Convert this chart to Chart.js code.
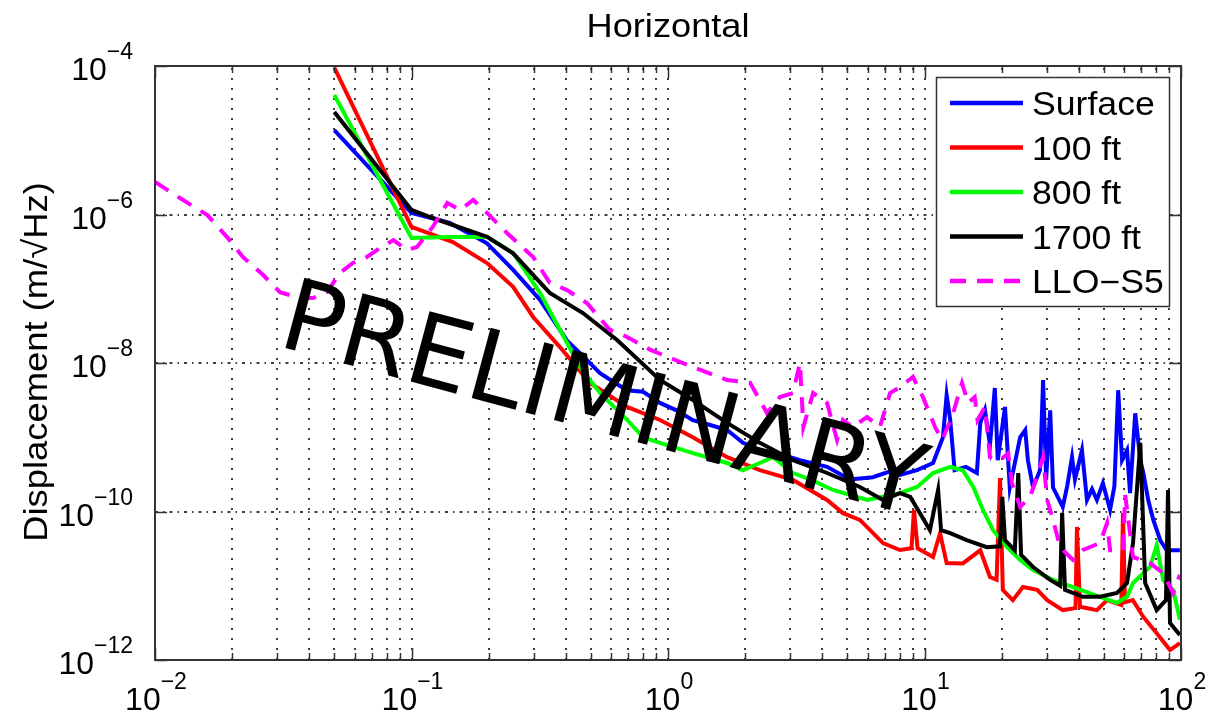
<!DOCTYPE html>
<html>
<head>
<meta charset="utf-8">
<script src="https://cdn.jsdelivr.net/npm/chart.js@4/dist/chart.umd.min.js"></script>
<style>
  html, body { margin: 0; background: #fff; }
  canvas { display: block; }
</style>
</head>
<body>
<canvas id="chart" width="1209" height="715"></canvas>
<script>
// [frequency (Hz), displacement (m/rtHz)]
const surface = [[0.05,1.37e-5],[0.1,1.05e-6],[0.141,7.7e-7],[0.197,4.1e-7],[0.249,1.8e-7],[0.317,7.1e-8],[0.404,2.0e-8],[0.454,1.36e-8],[0.543,7.3e-9],[0.69,4.3e-9],[0.8,4.1e-9],[0.93,2.9e-9],[1.08,2.3e-9],[1.25,1.7e-9],[1.46,1.46e-9],[1.7,1.25e-9],[1.96,8.4e-10],[2.28,6.7e-10],[2.66,6.1e-10],[3.27,4.9e-10],[4.17,4.0e-10],[5.12,2.7e-10],[6.29,2.9e-10],[7.2,3.4e-10],[8.02,3.1e-10],[9.35,3.6e-10],[10.8,4.5e-10],[11.8,1.0e-9],[12.2,3.7e-9],[12.6,1.7e-9],[13.1,3.6e-10],[14.5,4.0e-10],[16.0,3.3e-10],[16.5,1.56e-9],[17.2,2.33e-9],[18.0,7.9e-10],[18.8,4.6e-9],[19.3,4.9e-10],[20.6,2.56e-9],[21.5,2.1e-10],[23.6,1.0e-9],[24.7,1.25e-9],[25.3,4.9e-10],[26.5,2.1e-10],[28.2,3.6e-10],[29.0,5.9e-9],[29.8,2.7e-10],[30.9,2.3e-9],[31.7,2.1e-10],[33.0,1.6e-10],[34.6,1.15e-10],[36.0,2.2e-10],[37.6,5.4e-10],[38.6,2.7e-10],[41.1,6.7e-10],[43.0,1.43e-10],[45.0,2.0e-10],[47.0,1.43e-10],[49.6,2.4e-10],[52.9,1.05e-10],[55.0,2.2e-10],[56.9,4.3e-9],[58.9,4.9e-10],[61.6,6.7e-10],[63.3,1.77e-10],[66.3,2.1e-9],[69.4,4.9e-10],[71.3,3.3e-10],[74.5,1.43e-10],[78.0,7.7e-11],[83.0,4.1e-11],[88.0,3.0e-11],[99.0,3.0e-11]];
const ft100 = [[0.05,9.5e-5],[0.1,6.8e-7],[0.145,4.26e-7],[0.197,2.22e-7],[0.249,1.06e-7],[0.298,4.17e-8],[0.379,1.64e-8],[0.496,5.4e-9],[0.693,2.56e-9],[0.931,1.71e-9],[1.25,1.0e-9],[1.7,5.4e-10],[2.28,3.6e-10],[3.07,2.66e-10],[3.58,1.95e-10],[4.17,1.43e-10],[4.81,9.5e-11],[5.6,7.7e-11],[6.89,3.76e-11],[8.02,3.03e-11],[8.9,3.2e-11],[9.1,1.05e-10],[9.4,3.2e-11],[10.8,2.44e-11],[11.5,5.1e-11],[12.2,2.02e-11],[14.1,2.0e-11],[16.5,3.0e-11],[18.0,1.31e-11],[19.1,1.2e-11],[19.7,2.83e-10],[20.2,8.8e-12],[22.1,6.4e-12],[24.2,9.6e-12],[27.5,8.8e-12],[30.1,6.4e-12],[34.6,4.7e-12],[38.8,5.0e-12],[39.3,6.2e-11],[40.4,5.2e-12],[47.0,4.7e-12],[51.5,6.4e-12],[58.5,5.5e-12],[59.4,9.5e-11],[60.5,6.0e-12],[64.9,6.4e-12],[71.3,3.8e-12],[80.4,2.3e-12],[90.6,1.36e-12],[99.0,1.69e-12]];
const ft800 = [[0.05,4.07e-5],[0.1,4.83e-7],[0.141,4.97e-7],[0.197,5.0e-7],[0.249,3.03e-7],[0.317,8.8e-8],[0.404,1.86e-8],[0.454,8.8e-9],[0.543,3.94e-9],[0.693,1.71e-9],[0.8,1.0e-9],[0.93,8.4e-10],[1.25,6.1e-10],[1.7,4.5e-10],[1.96,3.6e-10],[2.28,4.5e-10],[2.57,5.4e-10],[3.07,3.3e-10],[3.58,2.7e-10],[4.4,1.95e-10],[5.97,1.43e-10],[8.02,1.77e-10],[9.35,2.14e-10],[10.8,3.3e-10],[12.6,3.98e-10],[14.1,3.6e-10],[15.5,2.14e-10],[16.9,1.05e-10],[18.5,5.6e-11],[21.0,3.3e-11],[23.6,2.22e-11],[26.5,1.63e-11],[31.7,1.2e-11],[37.9,9.6e-12],[48.3,7.1e-12],[56.3,5.9e-12],[61.6,7.1e-12],[65.0,1.09e-11],[71.3,1.48e-11],[75.7,1.79e-11],[80.4,3.5e-11],[85.2,1.2e-11],[93.1,8.8e-12],[99.0,3.5e-12]];
const ft1700 = [[0.05,2.4e-5],[0.1,1.15e-6],[0.121,8.97e-7],[0.197,5.0e-7],[0.249,3.0e-7],[0.346,8.8e-8],[0.466,4.71e-8],[0.633,2.04e-8],[0.93,5.9e-9],[1.25,3.17e-9],[1.7,1.56e-9],[2.28,8.4e-10],[3.07,4.9e-10],[4.17,3.3e-10],[5.6,2.14e-10],[6.89,1.43e-10],[8.02,1.77e-10],[8.8,1.57e-10],[9.6,9.5e-11],[10.5,5.6e-11],[11.3,1.95e-10],[11.6,5.6e-11],[12.6,5.1e-11],[14.6,4.13e-11],[17.5,3.3e-11],[19.7,3.4e-11],[20.1,1.57e-10],[20.6,4.1e-11],[22.5,3.0e-11],[23.2,3.3e-10],[23.8,2.6e-11],[26.5,1.79e-11],[30.9,1.2e-11],[33.8,1.0e-11],[34.4,9.6e-11],[35.3,8.8e-12],[41.5,7.1e-12],[48.3,7.1e-12],[56.3,8.0e-12],[61.6,1.09e-11],[65.0,3.76e-11],[69.4,8.4e-10],[72.5,1.09e-11],[80.4,4.7e-12],[87.4,6.4e-12],[89.0,1.95e-10],[90.6,3.15e-12],[99.0,2.17e-12]];
const lloS5 = [[0.01,2.74e-6],[0.0125,1.67e-6],[0.016,9.8e-7],[0.0191,4.97e-7],[0.022,2.68e-7],[0.0264,1.53e-7],[0.0307,9.0e-8],[0.0358,7.7e-8],[0.0413,7.5e-8],[0.0468,9.0e-8],[0.0526,1.63e-7],[0.0591,2.22e-7],[0.067,2.68e-7],[0.0754,3.54e-7],[0.085,4.53e-7],[0.096,3.32e-7],[0.105,3.65e-7],[0.121,6.8e-7],[0.138,1.43e-6],[0.155,1.15e-6],[0.174,1.57e-6],[0.197,1.05e-6],[0.236,5.6e-7],[0.298,2.68e-7],[0.346,1.2e-7],[0.404,9.6e-8],[0.483,6.42e-8],[0.594,2.78e-8],[0.693,2.24e-8],[0.855,1.5e-8],[1.14,1.0e-8],[1.25,8.8e-9],[1.7,5.9e-9],[2.09,5.4e-9],[2.28,3.17e-9],[2.43,2.12e-9],[2.73,3.48e-9],[3.07,3.94e-9],[3.27,1.0e-8],[3.37,1.37e-9],[3.68,3.94e-9],[4.17,2.89e-9],[4.56,9.2e-10],[4.81,1.71e-9],[5.26,1.37e-9],[5.97,1.87e-9],[6.7,1.37e-9],[7.34,3.94e-9],[8.02,4.75e-9],[9.02,6.5e-9],[9.86,3.48e-9],[11.0,1.37e-9],[11.7,9.2e-10],[12.8,1.87e-9],[14.0,5.4e-9],[14.8,2.89e-9],[15.7,3.48e-9],[16.1,1.71e-9],[17.2,2.56e-9],[18.0,5.4e-10],[19.7,4.9e-10],[21.2,6.1e-10],[21.9,2.42e-10],[23.6,1.15e-10],[25.8,1.57e-10],[29.0,5.4e-10],[30.1,1.43e-10],[31.7,7.7e-11],[33.8,3.3e-11],[37.9,2.22e-11],[41.5,3.03e-11],[48.3,3.76e-11],[51.5,7.0e-11],[52.9,3.0e-11],[59.4,3.0e-11],[60.6,1.67e-10],[65.0,2.44e-11],[75.7,2.02e-11],[85.2,1.48e-11],[93.1,8.0e-12],[99.0,1.4e-11]];

const seriesNames = ["Surface", "100 ft", "800 ft", "1700 ft", "LLO\u2212S5"];
const xTickExps = [-2, -1, 0, 1, 2];
const yTickExps = [-12, -10, -8, -6, -4];

const FONT = '"Liberation Sans", Arial, sans-serif';
const colors = ["#0000ff", "#ff0000", "#00ff00", "#000000", "#ff00ff"];
const dashes = [[], [], [], [], [16, 11]];
const allSeries = [surface, ft100, ft800, ft1700, lloS5];

// MATLAB text comes out a little wider than Liberation Sans
function wideText(ctx, text, x, y, sx) {
  ctx.save();
  ctx.translate(x, y);
  ctx.scale(sx, 1);
  ctx.fillText(text, 0, 0);
  ctx.restore();
}

function drawPow(ctx, exp, x, baseY, align) {
  const main = "10", sup = "\u2212" + Math.abs(exp);
  const mainFont = "32px " + FONT, supFont = "23px " + FONT;
  ctx.font = mainFont;
  const w1 = ctx.measureText(main).width;
  ctx.font = supFont;
  const w2 = ctx.measureText(exp < 0 ? sup : String(exp)).width;
  let start = align === "right" ? x - (w1 + w2) : x - (w1 + w2) / 2;
  ctx.textAlign = "left";
  ctx.textBaseline = "alphabetic";
  ctx.font = mainFont;
  ctx.fillText(main, start, baseY);
  ctx.font = supFont;
  ctx.fillText(exp < 0 ? sup : String(exp), start + w1, baseY - 21);
}

const matlabAxes = {
  id: "matlabAxes",
  beforeDatasetsDraw(chart) {
    const { ctx, chartArea: a, scales: { x, y } } = chart;
    ctx.save();
    ctx.strokeStyle = "#000";
    ctx.lineWidth = 1.5;
    ctx.setLineDash([2, 8]);
    for (let e = -2; e < 2; e++) {
      for (let m = 1; m < 10; m++) {
        if (e === -2 && m === 1) continue;
        const px = Math.round(x.getPixelForValue(m * Math.pow(10, e)));
        ctx.beginPath();
        ctx.moveTo(px, a.bottom);
        ctx.lineTo(px, a.top);
        ctx.stroke();
      }
    }
    ctx.setLineDash([3, 5, 1.5, 5]);
    yTickExps.slice(1, -1).forEach(e => {
      const py = Math.round(y.getPixelForValue(Math.pow(10, e)));
      ctx.beginPath();
      ctx.moveTo(a.left, py);
      ctx.lineTo(a.right, py);
      ctx.stroke();
    });
    ctx.restore();
  },
  afterDatasetsDraw(chart) {
    const { ctx, chartArea: a, scales: { x, y } } = chart;
    ctx.save();
    ctx.setLineDash([]);
    ctx.strokeStyle = "#333";
    ctx.lineWidth = 1.5;
    // ticks
    for (let e = -2; e <= 2; e++) {
      for (let m = 1; m < 10; m++) {
        if (e === 2 && m > 1) break;
        const px = Math.round(x.getPixelForValue(m * Math.pow(10, e))) + 0.5;
        const len = m === 1 ? 12 : 7;
        ctx.beginPath();
        ctx.moveTo(px, a.bottom); ctx.lineTo(px, a.bottom - len);
        ctx.moveTo(px, a.top); ctx.lineTo(px, a.top + len);
        ctx.stroke();
      }
    }
    yTickExps.forEach(e => {
      const py = Math.round(y.getPixelForValue(Math.pow(10, e))) + 0.5;
      ctx.beginPath();
      ctx.moveTo(a.left, py); ctx.lineTo(a.left + 12, py);
      ctx.moveTo(a.right, py); ctx.lineTo(a.right - 12, py);
      ctx.stroke();
    });
    // box
    ctx.lineWidth = 2;
    ctx.strokeRect(a.left, a.top, a.right - a.left, a.bottom - a.top);

    // tick labels
    ctx.fillStyle = "#000";
    xTickExps.forEach(e => drawPow(ctx, e, x.getPixelForValue(Math.pow(10, e)) + 1, 710, "center"));
    yTickExps.forEach(e => drawPow(ctx, e, a.left - 22, y.getPixelForValue(Math.pow(10, e)) + 14, "right"));

    // title and y label
    ctx.font = "34px " + FONT;
    ctx.textAlign = "center";
    ctx.textBaseline = "alphabetic";
    wideText(ctx, "Horizontal", (a.left + a.right) / 2, 37, 1.065);
    ctx.save();
    ctx.translate(47, (a.top + a.bottom) / 2 - 1);
    ctx.rotate(-Math.PI / 2);
    wideText(ctx, "Displacement (m/\u221AHz)", 0, 0, 1.07);
    ctx.restore();

    // legend
    ctx.fillStyle = "#fff";
    ctx.fillRect(936, 77, 233, 229);
    ctx.strokeStyle = "#333";
    ctx.lineWidth = 1.5;
    ctx.strokeRect(936.5, 77.5, 233, 229);
    chart.data.datasets.forEach((ds, i) => {
      const ly = 103 + i * 44.5;
      ctx.strokeStyle = ds.borderColor;
      ctx.lineWidth = 4.5;
      ctx.setLineDash(ds.borderDash || []);
      ctx.beginPath();
      ctx.moveTo(950, ly); ctx.lineTo(1023, ly);
      ctx.stroke();
      ctx.setLineDash([]);
      ctx.fillStyle = "#000";
      ctx.font = "33px " + FONT;
      ctx.textAlign = "left";
      wideText(ctx, ds.label, 1032, ly + 12, 1.08);
    });

    // watermark
    ctx.save();
    ctx.translate(602, 406);
    ctx.rotate(15 * Math.PI / 180);
    ctx.font = '100px "DejaVu Sans", sans-serif';
    ctx.textAlign = "center";
    ctx.textBaseline = "middle";
    ctx.fillStyle = "#000";
    ctx.fillText("PRELIMINARY", 0, 0);
    ctx.restore();
    ctx.restore();
  }
};

new Chart(document.getElementById("chart"), {
  type: "line",
  data: {
    datasets: allSeries.map((s, i) => ({
      label: seriesNames[i],
      data: s.map(([f, v]) => ({ x: f, y: v })),
      borderColor: colors[i],
      borderDash: dashes[i],
      borderWidth: 4,
      pointRadius: 0,
      tension: 0,
      fill: false,
      order: 5 - i,
    })),
  },
  options: {
    responsive: false,
    animation: false,
    devicePixelRatio: 1,
    layout: { padding: { left: 155, right: 28, top: 66, bottom: 55 } },
    plugins: { legend: { display: false }, tooltip: { enabled: false }, title: { display: false } },
    scales: {
      x: { type: "logarithmic", min: 0.01, max: 100, display: false },
      y: { type: "logarithmic", min: 1e-12, max: 1e-4, display: false },
    },
  },
  plugins: [matlabAxes],
});
</script>
</body>
</html>
